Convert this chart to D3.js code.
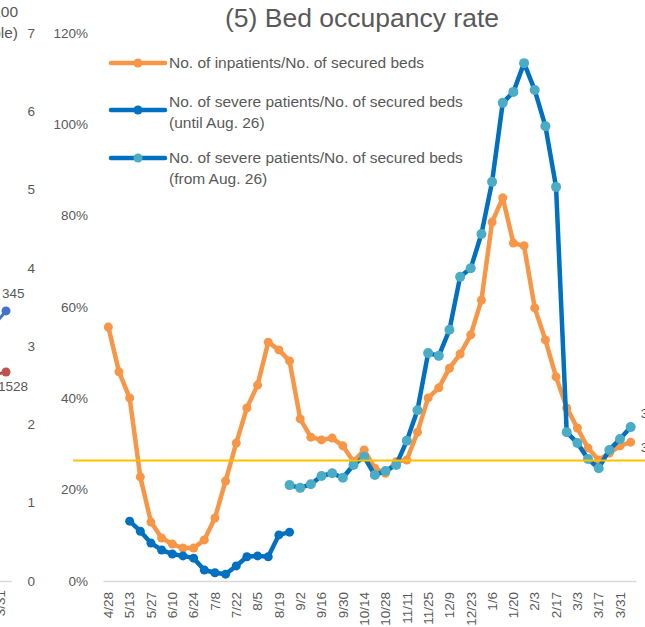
<!DOCTYPE html>
<html>
<head>
<meta charset="utf-8">
<script src="https://cdnjs.cloudflare.com/ajax/libs/d3/7.8.5/d3.min.js"></script>
<style>
	body { margin: 0; background: #fff; }
	text { font-family: 'Liberation Sans', Arial, sans-serif; fill: #595959; }
</style>
</head>
<body>
<div id="bedChart"></div>
<script>
// weekly categories, every second one labelled
var weeks = ['4/28','5/6','5/13','5/20','5/27','6/3','6/10','6/17','6/24','7/1',
	'7/8','7/15','7/22','7/29','8/5','8/12','8/19','8/26','9/2','9/9',
	'9/16','9/23','9/30','10/7','10/14','10/21','10/28','11/4','11/11','11/18',
	'11/25','12/2','12/9','12/16','12/23','12/30','1/6','1/13','1/20','1/27',
	'2/3','2/10','2/17','2/24','3/3','3/10','3/17','3/24','3/31','4/7'];
var tickWeeks = weeks.filter(function(d, i) { return i % 2 == 0; });
var yTicks = [0, 20, 40, 60, 80, 100, 120];

// % values
var inpatientRate = [55.6, 45.8, 40.1, 22.8, 12.9, 9.4, 8.1, 7.2, 7.2, 9.0,
	13.8, 21.9, 30.2, 37.9, 42.9, 52.3, 50.6, 48.2, 35.5, 31.5,
	30.9, 31.3, 29.6, 26.1, 28.7, 24.7, 23.6, 26.1, 26.5, 32.6,
	40.1, 42.3, 46.6, 49.7, 53.9, 61.5, 78.6, 83.9, 74.0, 73.4,
	59.8, 52.8, 44.7, 37.9, 33.5, 29.1, 26.5, 28.0, 29.6, 30.4];
var severeUntilWeeks = weeks.slice(2, 18);   // 5/13 .. 8/26
var severeUntil = [13.1, 10.9, 8.3, 6.8, 5.9, 5.5, 5.0, 2.4, 1.8, 1.5, 3.3, 5.3, 5.5, 5.3, 10.1, 10.7];
var severeFromWeeks = weeks.slice(17);       // 8/26 .. 4/7
var severeFrom = [21.0, 20.4, 21.2, 23.0, 23.6, 22.6, 25.4, 27.2, 23.2, 24.1,
	25.4, 30.7, 37.4, 49.9, 49.3, 55.0, 66.6, 68.5, 76.0, 87.4,
	104.7, 107.1, 113.4, 107.5, 99.6, 86.3, 32.6, 30.2, 26.7, 24.7,
	28.7, 31.1, 33.7];
var targetRate = 26.4;
var rightLabels = ['33.7%', '30.4%'];

// neighbouring chart (cut off on the left)
var leftTicks = [0, 1, 2, 3, 4, 5, 6, 7];
var leftEndLabels = ['345', '1528'];
var leftEndValues = [3.45, 2.67];
var leftPrevValues = [3.27, 2.63];

var orange = '#F79646', darkBlue = '#0070C0', lightBlue = '#4BACC6';

function drawBedChart() {
	var width = 645, height = 627;
	var svg = d3.select('#bedChart').append('svg')
		.attr('width', width)
		.attr('height', height);

	var x = d3.scaleBand().domain(weeks).range([103, 636]);
	var cx = function(d) { return x(d) + x.bandwidth() / 2; };
	var y = d3.scaleLinear().domain([0, 120]).range([581, 33]);
	var yLeft = d3.scaleLinear().domain([0, 7]).range([581, 33]);

	// ---- left neighbour pieces
	svg.append('line')
		.attr('x1', 0).attr('x2', 12)
		.attr('y1', 581.5).attr('y2', 581.5)
		.attr('stroke', '#D9D9D9').attr('stroke-width', 1.5);
	svg.selectAll('.left-tick')
		.data(leftTicks)
		.enter().append('text')
		.attr('class', 'left-tick')
		.attr('x', 35)
		.attr('y', function(d) { return yLeft(d); })
		.attr('dy', '0.35em')
		.attr('text-anchor', 'end')
		.style('font-size', '13.5px')
		.text(function(d) { return d; });
	svg.append('text').attr('x', 18).attr('y', 12).attr('dy', '0.35em')
		.attr('text-anchor', 'end').style('font-size', '15.5px').text('(per 100');
	svg.append('text').attr('x', 18).attr('y', 33).attr('dy', '0.35em')
		.attr('text-anchor', 'end').style('font-size', '15.5px').text('people)');
	svg.append('text')
		.attr('transform', 'translate(5,590) rotate(-90)')
		.attr('text-anchor', 'end')
		.style('font-size', '13.5px')
		.text('3/31');
	var leftColors = ['#4472C4', '#C0504D'];
	leftEndValues.forEach(function(v, i) {
		svg.append('line')
			.attr('x1', -6).attr('y1', yLeft(leftPrevValues[i]))
			.attr('x2', 6).attr('y2', yLeft(v))
			.attr('stroke', leftColors[i]).attr('stroke-width', 3);
		svg.append('circle')
			.attr('cx', 6).attr('cy', yLeft(v)).attr('r', 4.5)
			.attr('fill', leftColors[i]);
	});
	svg.append('text').attr('x', 2).attr('y', yLeft(leftEndValues[0]) - 18).attr('dy', '0.35em')
		.style('font-size', '13.5px').text(leftEndLabels[0]);
	svg.append('text').attr('x', -2).attr('y', yLeft(leftEndValues[1]) + 14).attr('dy', '0.35em')
		.style('font-size', '13.5px').text(leftEndLabels[1]);

	// ---- title
	svg.append('text')
		.attr('x', 362)
		.attr('y', 27)
		.attr('text-anchor', 'middle')
		.style('font-size', '26.5px')
		.text('(5) Bed occupancy rate');

	// ---- axes
	var yAxis = svg.append('g')
		.attr('transform', 'translate(88,0)')
		.call(d3.axisLeft(y)
			.tickValues(yTicks)
			.tickSize(0)
			.tickPadding(0)
			.tickFormat(function(d) { return d + '%'; }));
	yAxis.select('.domain').remove();
	yAxis.selectAll('text').style('font-size', '13.5px').attr('fill', '#595959');

	var xAxis = svg.append('g')
		.attr('transform', 'translate(0,581)')
		.call(d3.axisBottom(x)
			.tickValues(tickWeeks)
			.tickSize(0)
			.tickSizeOuter(0));
	xAxis.select('.domain').attr('stroke', '#D9D9D9').attr('stroke-width', 1.5);
	xAxis.selectAll('text')
		.style('font-size', '13.5px')
		.attr('fill', '#595959')
		.attr('transform', 'rotate(-90)')
		.attr('text-anchor', 'end')
		.attr('x', -11)
		.attr('y', 0)
		.attr('dy', '0.35em');

	// ---- series
	var line = d3.line()
		.x(function(d) { return cx(d.week); })
		.y(function(d) { return y(d.value); });

	function series(keys, values) {
		return values.map(function(v, i) { return {week: keys[i], value: v}; });
	}

	var groups = [
		{data: series(weeks, inpatientRate), stroke: orange, fill: orange, r: 4.5},
		{data: series(severeUntilWeeks, severeUntil), stroke: darkBlue, fill: darkBlue, r: 4.5},
		{data: series(severeFromWeeks, severeFrom), stroke: darkBlue, fill: lightBlue, r: 5}
	];

	groups.forEach(function(g) {
		svg.append('path')
			.datum(g.data)
			.attr('fill', 'none')
			.attr('stroke', g.stroke)
			.attr('stroke-width', 4.5)
			.attr('stroke-linejoin', 'round')
			.attr('d', line);
		svg.selectAll(null)
			.data(g.data)
			.enter().append('circle')
			.attr('cx', function(d) { return cx(d.week); })
			.attr('cy', function(d) { return y(d.value); })
			.attr('r', g.r)
			.attr('fill', g.fill);
	});

	// reference line
	svg.append('line')
		.attr('x1', 73).attr('x2', width)
		.attr('y1', y(targetRate)).attr('y2', y(targetRate))
		.attr('stroke', '#FFC000').attr('stroke-width', 2);

	// end labels (cut off by the right edge)
	var lastX = cx(weeks[weeks.length - 1]);
	svg.append('text').attr('x', lastX + 10).attr('y', y(severeFrom[severeFrom.length - 1]) - 14)
		.attr('dy', '0.35em').style('font-size', '13.5px').text(rightLabels[0]);
	svg.append('text').attr('x', lastX + 10).attr('y', y(inpatientRate[inpatientRate.length - 1]) + 5)
		.attr('dy', '0.35em').style('font-size', '13.5px').text(rightLabels[1]);

	// ---- legend
	var legendRows = [
		{y: 63, textTop: 63, stroke: orange, fill: orange, lines: ['No. of inpatients/No. of secured beds']},
		{y: 110, textTop: 102, stroke: darkBlue, fill: darkBlue, lines: ['No. of severe patients/No. of secured beds', '(until Aug. 26)']},
		{y: 158, textTop: 158, stroke: darkBlue, fill: lightBlue, lines: ['No. of severe patients/No. of secured beds', '(from Aug. 26)']}
	];
	var legend = svg.selectAll('.legend-row')
		.data(legendRows)
		.enter().append('g')
		.attr('class', 'legend-row');
	legend.append('line')
		.attr('x1', 111).attr('x2', 165)
		.attr('y1', function(d) { return d.y; })
		.attr('y2', function(d) { return d.y; })
		.attr('stroke', function(d) { return d.stroke; })
		.attr('stroke-width', 4.5)
		.attr('stroke-linecap', 'round');
	legend.append('circle')
		.attr('cx', 138)
		.attr('cy', function(d) { return d.y; })
		.attr('r', 4.5)
		.attr('fill', function(d) { return d.fill; });
	legend.each(function(d) {
		var g = d3.select(this);
		d.lines.forEach(function(t, i) {
			g.append('text')
				.attr('x', 169)
				.attr('y', d.textTop + i * 20.5)
				.attr('dy', '0.35em')
				.style('font-size', '15.5px')
				.text(t);
		});
	});
}

drawBedChart();
</script>
</body>
</html>
